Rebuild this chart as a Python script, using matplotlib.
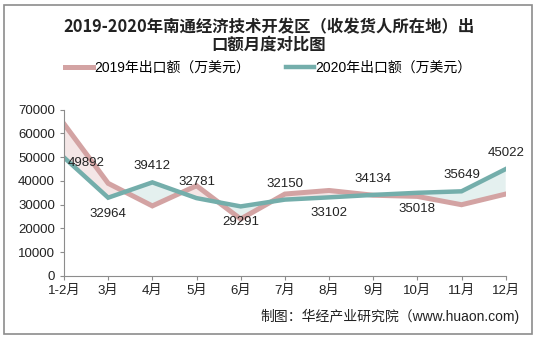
import matplotlib.pyplot as plt
import matplotlib.patches as patches
import numpy as np

plt.rcParams['font.family'] = ['Liberation Sans', 'Noto Sans CJK SC', 'DejaVu Sans']

months = ['1-2月', '3月', '4月', '5月', '6月', '7月', '8月', '9月', '10月', '11月', '12月']
exports_2019 = [64000, 39000, 29500, 38000, 24000, 34500, 36000, 34000, 33500, 30000, 34500]
exports_2020 = [49892, 32964, 39412, 32781, 29291, 32150, 33102, 34134, 35018, 35649, 45022]
label_above = [None, False, True, True, False, True, False, True, False, True, True]

c19 = '#d3a3a3'
c20 = '#74aeab'

fig = plt.figure(figsize=(5.37, 3.39), dpi=100)
fig.patches.append(patches.Rectangle((4 / 537, 5 / 339), 528 / 537, 329 / 339,
                                     transform=fig.transFigure, fill=False,
                                     edgecolor='#8c8c8c', linewidth=1.2))

ax = fig.add_axes([64 / 537, 63 / 339, 441.7 / 537, 166.3 / 339])
x = np.arange(len(months))
y19 = np.array(exports_2019, dtype=float)
y20 = np.array(exports_2020, dtype=float)

ax.fill_between(x, y19, y20, where=y19 >= y20, interpolate=True, color='#f4e6e6', linewidth=0)
ax.fill_between(x, y19, y20, where=y19 < y20, interpolate=True, color='#e4f0ef', linewidth=0)
ax.plot(x, y19, color=c19, linewidth=3.6, solid_joinstyle='miter', label='2019年出口额（万美元）')
ax.plot(x, y20, color=c20, linewidth=3.2, solid_joinstyle='miter', label='2020年出口额（万美元）')

for i, v in enumerate(exports_2020):
    if i == 0:
        ax.annotate(str(v), (i, v), xytext=(16, -4), textcoords='offset points',
                    ha='center', va='center', fontsize=9.5, color='#222222')
    else:
        dy = 11.5 if label_above[i] else -11.5
        ax.annotate(str(v), (i, v), xytext=(0, dy), textcoords='offset points',
                    ha='center', va='center', fontsize=9.5, color='#222222')

ax.set_xlim(0, len(months) - 1)
ax.set_ylim(0, 70000)
ax.set_yticks(range(0, 70001, 10000))
ax.set_xticks(x)
ax.set_xticklabels(months)
ax.tick_params(axis='both', labelsize=9.5, colors='#8c8c8c', labelcolor='#222222', length=3)
for s in ['top', 'right']:
    ax.spines[s].set_visible(False)
for s in ['left', 'bottom']:
    ax.spines[s].set_color('#8c8c8c')

fig.text(0.5, 1 - 27 / 339, '2019-2020年南通经济技术开发区（收发货人所在地）出', ha='center', va='center',
         fontsize=11.8, fontweight='bold', family='Noto Sans CJK SC', color='#222222')
fig.text(0.5, 1 - 45 / 339, '口额月度对比图', ha='center', va='center',
         fontsize=11.8, fontweight='bold', family='Noto Sans CJK SC', color='#222222')

fig.legend(loc='center', bbox_to_anchor=(0.5, 1 - 68 / 339), ncol=2, frameon=False,
           fontsize=10, handlelength=2.0, columnspacing=2.6, handletextpad=0.1)

fig.text(520 / 537, 1 - 316 / 339, '制图：华经产业研究院（www.huaon.com)', ha='right', va='center',
         fontsize=10, color='#222222')

fig.savefig('out.png', dpi=100)
